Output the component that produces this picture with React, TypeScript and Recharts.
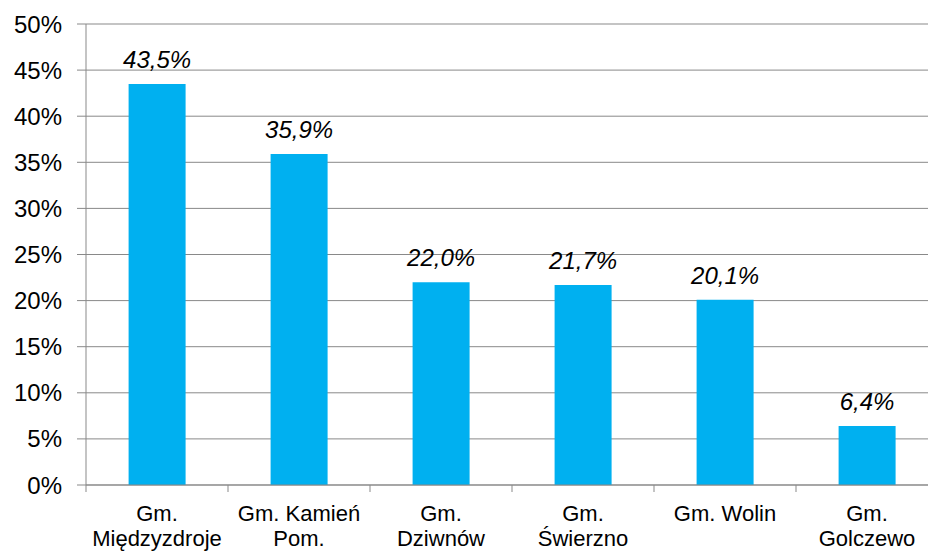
import React from 'react';
import { BarChart, Bar, XAxis, YAxis, CartesianGrid, LabelList } from 'recharts';

// share of each commune, in percent
const communes = [
  'Gm.\nMiędzyzdroje',
  'Gm. Kamień\nPom.',
  'Gm.\nDziwnów',
  'Gm.\nŚwierzno',
  'Gm. Wolin',
  'Gm.\nGolczewo',
];
const shares = [43.5, 35.9, 22.0, 21.7, 20.1, 6.4];
const yTicks = [0, 5, 10, 15, 20, 25, 30, 35, 40, 45, 50];

const data = communes.map((name, i) => ({ name, share: shares[i] }));

const CHART_W = 940;
const CHART_H = 552;
const Y_AXIS_W = 86;
const MARGIN_RIGHT = 2;
const BAND = (CHART_W - Y_AXIS_W - MARGIN_RIGHT) / communes.length;

const FONT = '"Liberation Sans", Arial, sans-serif';
const FONT_SIZE = 24;
const CAT_FONT_SIZE = 22;
const GRID = '#898989';
const BAR = '#00B0F0';

const fmt = (v: number) => v.toFixed(1).replace('.', ',') + '%';

const CategoryTick = (props: any) => {
  const { x, y, payload } = props;
  const lines = String(payload.value).split('\n');
  return (
    <g>
      <line x1={x - BAND / 2} x2={x - BAND / 2} y1={y} y2={y + 7} stroke={GRID} />
      <text x={x} y={y + 36} textAnchor="middle" fill="#000" fontFamily={FONT} fontSize={CAT_FONT_SIZE}>
        {lines.map((l, i) => (
          <tspan key={i} x={x} dy={i === 0 ? 0 : 25}>
            {l}
          </tspan>
        ))}
      </text>
    </g>
  );
};

const ValueLabel = (props: any) => {
  const { x, y, width, value } = props;
  return (
    <text
      x={x + width / 2}
      y={y - 16}
      textAnchor="middle"
      fill="#000"
      fontFamily={FONT}
      fontSize={FONT_SIZE}
      fontStyle="italic"
    >
      {fmt(value)}
    </text>
  );
};

export default function App() {
  return (
    <div style={{ position: 'absolute', left: 0, top: 0, width: 928, height: CHART_H, overflow: 'hidden', background: '#fff' }}>
      <BarChart
        width={CHART_W}
        height={CHART_H}
        data={data}
        margin={{ top: 24, right: MARGIN_RIGHT, bottom: 0, left: 0 }}
        barCategoryGap="30%"
      >
        <CartesianGrid vertical={false} stroke={GRID} />
        <XAxis
          dataKey="name"
          height={67}
          interval={0}
          axisLine={{ stroke: GRID }}
          tickLine={false}
          tickSize={0}
          tickMargin={0}
          tick={<CategoryTick />}
        />
        <YAxis
          width={Y_AXIS_W}
          domain={[0, 50]}
          ticks={yTicks}
          tickFormatter={(v: number) => `${v}%`}
          axisLine={{ stroke: GRID }}
          tickLine={{ stroke: GRID }}
          tickSize={9}
          tickMargin={15}
          tick={{ fill: '#000', fontFamily: FONT, fontSize: FONT_SIZE }}
        />
        <Bar dataKey="share" fill={BAR} isAnimationActive={false}>
          <LabelList dataKey="share" content={<ValueLabel />} />
        </Bar>
      </BarChart>
    </div>
  );
}
